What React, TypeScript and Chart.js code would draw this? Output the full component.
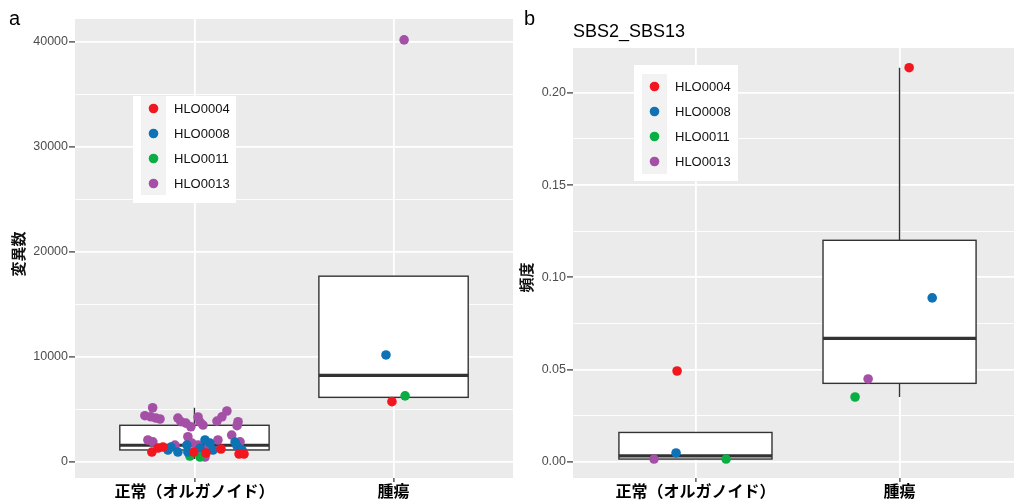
import React, { useEffect, useRef } from 'react';
import { Chart, registerables } from 'chart.js';

Chart.register(...registerables);

// ---------- shared ----------
const categories = ['正常（オルガノイド）', '腫瘍'];
const organoids = ['HLO0004', 'HLO0008', 'HLO0011', 'HLO0013'];
const organoidColors = ['#F2161F', '#0F72B5', '#0AAE43', '#A450A6'];

// ---------- panel a: mutation counts ----------
const mutYMajor = [0, 10000, 20000, 30000, 40000];
const mutYMinor = [5000, 15000, 25000, 35000];
const mutQ1 = [1150, 6160];
const mutMedian = [1600, 8250];
const mutQ3 = [3500, 17700];
const mutLow = [300, 5750];
const mutHigh = [5170, 10200];

// jittered points (x = category index + jitter)
const mutX_HLO0004 = [0.786, 0.817, 0.842, 0.997, 1.058, 1.133, 1.224, 1.249, 1.992];
const mutY_HLO0004 = [950, 1330, 1430, 950, 860, 1240, 760, 760, 5750];
const mutX_HLO0008 = [0.867, 0.882, 0.917, 0.962, 0.967, 1.053, 1.078, 1.093, 1.204, 1.214, 1.239, 1.028, 1.962];
const mutY_HLO0008 = [1140, 1430, 950, 1620, 950, 2100, 1810, 1140, 1900, 1520, 1140, 1330, 10200];
const mutX_HLO0011 = [0.977, 1.028, 2.058];
const mutY_HLO0011 = [570, 480, 6300];
const mutX_HLO0013 = [0.79, 0.751, 0.781, 0.806, 0.827, 0.917, 0.932, 0.957, 0.982, 1.018, 1.028, 1.043, 1.113, 1.138, 1.163, 1.219, 1.214, 1.187, 0.967, 0.766, 0.791, 0.902, 0.987, 1.018, 1.053, 1.068, 1.118, 1.229, 2.053];
const mutY_HLO0013 = [5170, 4410, 4310, 4190, 4100, 4190, 3840, 3710, 3360, 4290, 3810, 3520, 3900, 4310, 4860, 3840, 3460, 2570, 2410, 2100, 1930, 1620, 1810, 1620, 480, 1330, 2100, 1930, 40200];

// ---------- panel b: SBS2_SBS13 frequency ----------
const sbsYMajor = [0, 0.05, 0.1, 0.15, 0.2];
const sbsYMinor = [0.025, 0.075, 0.125, 0.175];
const sbsQ1 = [0.0016, 0.0426];
const sbsMedian = [0.0033, 0.067];
const sbsQ3 = [0.016, 0.1201];
const sbsLow = [0.0016, 0.0352];
const sbsHigh = [0.0049, 0.2136];

const sbsX_HLO0004 = [0.91, 2.047];
const sbsY_HLO0004 = [0.0493, 0.2136];
const sbsX_HLO0008 = [0.905, 2.16];
const sbsY_HLO0008 = [0.0049, 0.0889];
const sbsX_HLO0011 = [1.15, 1.782];
const sbsY_HLO0011 = [0.0016, 0.0352];
const sbsX_HLO0013 = [0.797, 1.846];
const sbsY_HLO0013 = [0.0016, 0.045];

const SANS = "'Liberation Sans', Arial, Helvetica, sans-serif";
const CJK = "'Noto Sans CJK JP', 'Noto Sans CJK SC', sans-serif";

type LegendCfg = { dx: number; dy: number; w: number; h: number; keyTop: number; keyH: number };

type PanelProps = {
  left: number;
  width: number;
  padTop: number;
  padRight: number;
  yAxisWidth: number;
  yMin: number;
  yMax: number;
  yMajor: number[];
  yMinor: number[];
  yFormat: (v: number) => string;
  q1: number[];
  median: number[];
  q3: number[];
  low: number[];
  high: number[];
  xs: number[][];
  ys: number[][];
  legend: LegendCfg;
  yTitle: string;
  yTitlePos: [number, number];
};

function Panel(p: PanelProps) {
  const ref = useRef<HTMLCanvasElement | null>(null);

  useEffect(() => {
    if (!ref.current) return;

    const bgPlugin = {
      id: 'panelBg',
      beforeDraw(chart: any) {
        const { ctx, chartArea: a } = chart;
        ctx.save();
        ctx.fillStyle = '#EBEBEB';
        ctx.fillRect(a.left, a.top, a.right - a.left, a.bottom - a.top);
        ctx.restore();
      },
    };

    const boxPlugin = {
      id: 'boxes',
      beforeDatasetsDraw(chart: any) {
        const { ctx } = chart;
        const xs = chart.scales.x;
        const ysc = chart.scales.y;
        ctx.save();
        for (let i = 0; i < p.q1.length; i++) {
          const c = i + 1;
          const xl = xs.getPixelForValue(c - 0.375);
          const xr = xs.getPixelForValue(c + 0.375);
          const xc = xs.getPixelForValue(c);
          const yq1 = ysc.getPixelForValue(p.q1[i]);
          const yq3 = ysc.getPixelForValue(p.q3[i]);
          const ym = ysc.getPixelForValue(p.median[i]);
          const ylo = ysc.getPixelForValue(p.low[i]);
          const yhi = ysc.getPixelForValue(p.high[i]);
          ctx.strokeStyle = '#333333';
          ctx.lineWidth = 1.4;
          ctx.beginPath();
          ctx.moveTo(xc, yq3);
          ctx.lineTo(xc, yhi);
          ctx.moveTo(xc, yq1);
          ctx.lineTo(xc, ylo);
          ctx.stroke();
          ctx.fillStyle = '#FFFFFF';
          ctx.fillRect(xl, yq3, xr - xl, yq1 - yq3);
          ctx.strokeRect(xl, yq3, xr - xl, yq1 - yq3);
          ctx.lineWidth = 3.2;
          ctx.beginPath();
          ctx.moveTo(xl, ym);
          ctx.lineTo(xr, ym);
          ctx.stroke();
        }
        ctx.restore();
      },
    };

    const overlayPlugin = {
      id: 'overlay',
      afterDraw(chart: any) {
        const { ctx, chartArea: a } = chart;
        const L = p.legend;
        const bx = a.left + L.dx;
        const by = a.top + L.dy;
        ctx.save();
        ctx.fillStyle = '#FFFFFF';
        ctx.fillRect(bx, by, L.w, L.h);
        const keyX = bx + 8;
        const keyW = 25;
        ctx.fillStyle = '#F2F2F2';
        ctx.fillRect(keyX, by + L.keyTop, keyW, L.keyH);
        ctx.font = `13px ${SANS}`;
        ctx.textBaseline = 'middle';
        ctx.textAlign = 'left';
        chart.data.datasets.forEach((ds: any, i: number) => {
          const cy = by + L.keyTop + 12.5 + i * 25;
          ctx.fillStyle = ds.backgroundColor;
          ctx.beginPath();
          ctx.arc(keyX + keyW / 2, cy, 4.8, 0, Math.PI * 2);
          ctx.fill();
          ctx.fillStyle = '#111111';
          ctx.fillText(ds.label, bx + 41, cy + 0.5);
        });
        // y axis title
        ctx.translate(p.yTitlePos[0], p.yTitlePos[1]);
        ctx.rotate(-Math.PI / 2);
        ctx.font = `bold 15px ${CJK}`;
        ctx.fillStyle = '#111111';
        ctx.textAlign = 'center';
        ctx.textBaseline = 'middle';
        ctx.fillText(p.yTitle, 0, 0);
        ctx.restore();
      },
    };

    const isMajor = (v: number) => p.yMajor.some((m) => Math.abs(m - v) < 1e-9);

    const chart = new Chart(ref.current, {
      type: 'scatter',
      data: {
        datasets: organoids.map((name, k) => ({
          label: name,
          data: p.xs[k].map((x, j) => ({ x, y: p.ys[k][j] })),
          backgroundColor: organoidColors[k],
          pointBackgroundColor: organoidColors[k],
          pointBorderWidth: 0,
          pointRadius: 4.8,
          pointHoverRadius: 4.8,
        })),
      },
      options: {
        animation: false,
        responsive: false,
        events: [],
        layout: { autoPadding: false, padding: { top: p.padTop, right: p.padRight, left: 0, bottom: 0 } },
        plugins: {
          legend: { display: false },
          tooltip: { enabled: false },
          title: { display: false },
        },
        scales: {
          x: {
            type: 'linear',
            min: 0.4,
            max: 2.6,
            afterBuildTicks: (s: any) => {
              s.ticks = categories.map((_, i) => ({ value: i + 1 }));
            },
            afterFit: (s: any) => {
              s.height = 26;
              s.paddingLeft = 0;
              s.paddingRight = 0;
            },
            border: { display: false },
            grid: { color: '#FFFFFF', lineWidth: 1.8, tickColor: '#333333', tickLength: 4, tickWidth: 1.2 },
            ticks: {
              autoSkip: false,
              maxRotation: 0,
              padding: -1,
              color: '#000000',
              font: { family: CJK, size: 16, weight: 'bold' },
              callback: (v: any) => categories[Math.round(Number(v)) - 1] ?? '',
            },
          },
          y: {
            type: 'linear',
            min: p.yMin,
            max: p.yMax,
            afterBuildTicks: (s: any) => {
              s.ticks = [...p.yMajor, ...p.yMinor].sort((a, b) => a - b).map((value) => ({ value }));
            },
            afterFit: (s: any) => {
              s.width = p.yAxisWidth;
              s.paddingTop = 0;
              s.paddingBottom = 0;
            },
            border: { display: false },
            grid: {
              color: '#FFFFFF',
              lineWidth: (c: any) => (c.tick && isMajor(c.tick.value) ? 1.8 : 0.9),
              tickColor: (c: any) => (c.tick && isMajor(c.tick.value) ? '#333333' : 'rgba(0,0,0,0)'),
              tickLength: 6,
              tickWidth: 1.2,
            },
            ticks: {
              autoSkip: false,
              padding: 1,
              color: '#4D4D4D',
              font: { family: SANS, size: 12.5 },
              callback: (v: any) => (isMajor(Number(v)) ? p.yFormat(Number(v)) : ''),
            },
          },
        },
      },
      plugins: [bgPlugin, boxPlugin, overlayPlugin],
    } as any);

    return () => chart.destroy();
  }, []);

  return (
    <canvas
      ref={ref}
      width={p.width}
      height={504}
      style={{ position: 'absolute', left: p.left, top: 0, width: p.width, height: 504 }}
    />
  );
}

export default function App() {
  const labelStyle: React.CSSProperties = {
    position: 'absolute',
    fontFamily: SANS,
    lineHeight: 1,
    color: '#000',
    whiteSpace: 'nowrap',
  };
  return (
    <div
      style={{
        position: 'absolute',
        left: 0,
        top: 0,
        width: 1014,
        height: 504,
        overflow: 'hidden',
        background: '#FFFFFF',
      }}
    >
      <Panel
        left={0}
        width={515}
        padTop={19}
        padRight={2}
        yAxisWidth={75}
        yMin={-1520}
        yMax={42190}
        yMajor={mutYMajor}
        yMinor={mutYMinor}
        yFormat={(v) => String(v)}
        q1={mutQ1}
        median={mutMedian}
        q3={mutQ3}
        low={mutLow}
        high={mutHigh}
        xs={[mutX_HLO0004, mutX_HLO0008, mutX_HLO0011, mutX_HLO0013]}
        ys={[mutY_HLO0004, mutY_HLO0008, mutY_HLO0011, mutY_HLO0013]}
        legend={{ dx: 58, dy: 77, w: 103, h: 107, keyTop: 0, keyH: 99 }}
        yTitle="変異数"
        yTitlePos={[18.5, 254]}
      />
      <Panel
        left={515}
        width={507}
        padTop={48}
        padRight={0}
        yAxisWidth={58}
        yMin={-0.00867}
        yMax={0.22427}
        yMajor={sbsYMajor}
        yMinor={sbsYMinor}
        yFormat={(v) => v.toFixed(2)}
        q1={sbsQ1}
        median={sbsMedian}
        q3={sbsQ3}
        low={sbsLow}
        high={sbsHigh}
        xs={[sbsX_HLO0004, sbsX_HLO0008, sbsX_HLO0011, sbsX_HLO0013]}
        ys={[sbsY_HLO0004, sbsY_HLO0008, sbsY_HLO0011, sbsY_HLO0013]}
        legend={{ dx: 61, dy: 17, w: 104, h: 116, keyTop: 9, keyH: 100 }}
        yTitle="頻度"
        yTitlePos={[11.5, 277.5]}
      />
      <div style={{ ...labelStyle, left: 9, top: 8, fontSize: 20 }}>a</div>
      <div style={{ ...labelStyle, left: 524, top: 8, fontSize: 20 }}>b</div>
      <div style={{ ...labelStyle, left: 573, top: 21.5, fontSize: 18 }}>SBS2_SBS13</div>
    </div>
  );
}
